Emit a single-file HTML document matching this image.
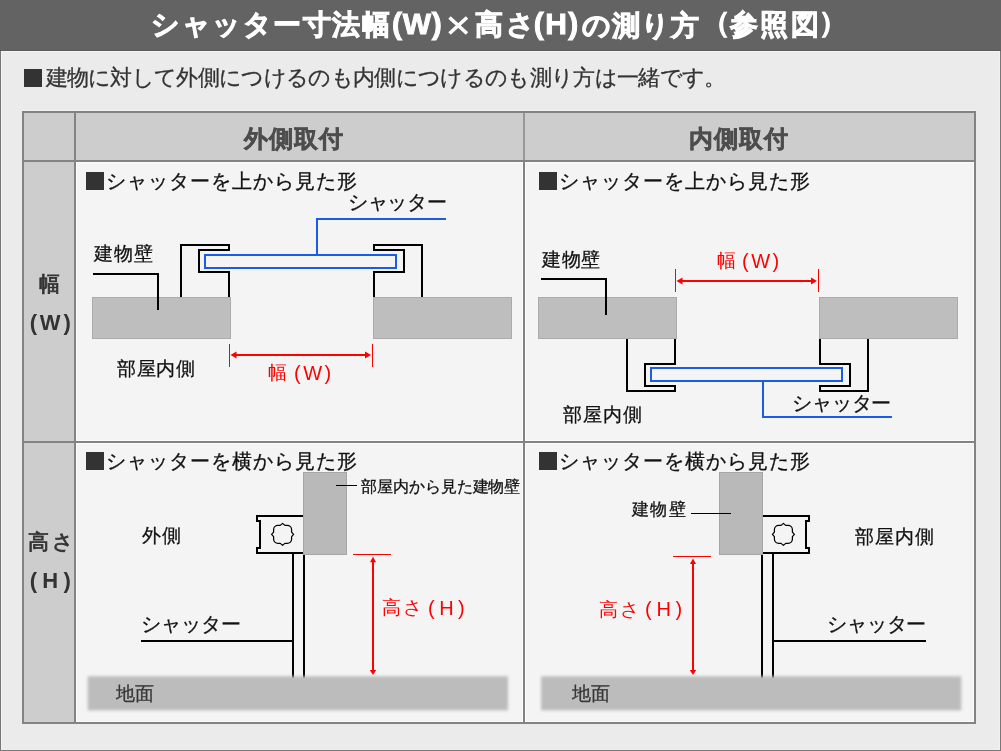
<!DOCTYPE html>
<html lang="ja"><head><meta charset="utf-8"><title>シャッター寸法</title>
<style>
html,body{margin:0;padding:0;}
body{width:1001px;height:751px;position:relative;overflow:hidden;background:#ebebeb;font-family:"Liberation Sans",sans-serif;}
svg{position:absolute;left:0;top:0;}
.t{position:absolute;white-space:nowrap;line-height:1.4;filter:grayscale(1);}
.r{filter:none;will-change:transform;}
.sq{display:inline-block;vertical-align:-2px;}
.x{display:inline-block;width:30px;text-align:center;font-weight:normal;transform:scale(1.35);}
</style></head><body>
<svg width="1001" height="751" viewBox="0 0 1001 751" shape-rendering="crispEdges">
<defs><filter id="bl" x="-5%" y="-20%" width="110%" height="140%"><feGaussianBlur stdDeviation="1.7"/></filter></defs>
<rect x="0" y="0" width="1001" height="751" fill="#ebebeb"/>
<rect x="0" y="0" width="1001" height="51" fill="#636363"/>
<rect x="0" y="50" width="1001" height="1" fill="#5a5a5a"/>
<rect x="1" y="51" width="999" height="1" fill="#f3f3f3"/>
<rect x="1" y="51" width="1" height="699" fill="#f2f2f2"/>
<rect x="999" y="51" width="1" height="699" fill="#f2f2f2"/>
<rect x="1" y="749" width="999" height="1" fill="#f0f0f0"/>
<rect x="0" y="51" width="1" height="700" fill="#777777"/>
<rect x="1000" y="51" width="1" height="700" fill="#777777"/>
<rect x="0" y="750" width="1001" height="1" fill="#777777"/>
<rect x="22" y="111" width="954" height="613" fill="#cdcdcd"/>
<rect x="76" y="162" width="447" height="279" fill="#f4f4f4"/>
<rect x="525" y="162" width="449" height="279" fill="#f4f4f4"/>
<rect x="76" y="443" width="447" height="279" fill="#f4f4f4"/>
<rect x="525" y="443" width="449" height="279" fill="#f4f4f4"/>
<rect x="76.5" y="162.5" width="446" height="278" fill="none" stroke="#fcfcfc" stroke-width="1"/>
<rect x="525.5" y="162.5" width="448" height="278" fill="none" stroke="#fcfcfc" stroke-width="1"/>
<rect x="76.5" y="443.5" width="446" height="278" fill="none" stroke="#fcfcfc" stroke-width="1"/>
<rect x="525.5" y="443.5" width="448" height="278" fill="none" stroke="#fcfcfc" stroke-width="1"/>
<rect x="22" y="110" width="954" height="1" fill="#f1f1f1"/>
<rect x="22" y="111" width="954" height="2" fill="#838383"/>
<rect x="22" y="722" width="954" height="2" fill="#838383"/>
<rect x="22" y="111" width="2" height="613" fill="#838383"/>
<rect x="974" y="111" width="2" height="613" fill="#838383"/>
<rect x="74" y="111" width="2" height="613" fill="#838383"/>
<rect x="523" y="111" width="2" height="613" fill="#838383"/>
<rect x="523" y="113" width="2" height="47" fill="#979797"/>
<rect x="22" y="160" width="954" height="2" fill="#838383"/>
<rect x="22" y="441" width="954" height="2" fill="#838383"/>
<rect x="92.5" y="297.5" width="138" height="41" fill="#bfbebf" stroke="#ababab" stroke-width="1"/>
<rect x="373.5" y="297.5" width="138" height="41" fill="#bfbebf" stroke="#ababab" stroke-width="1"/>
<rect x="93" y="273" width="66" height="2" fill="#000"/>
<rect x="157" y="273" width="2" height="37" fill="#000"/>
<rect x="180" y="244" width="2" height="53" fill="#000"/>
<rect x="180" y="244" width="50" height="2" fill="#000"/>
<rect x="228" y="244" width="2" height="7" fill="#000"/>
<rect x="198" y="249" width="32" height="2" fill="#000"/>
<rect x="198" y="249" width="2" height="24" fill="#000"/>
<rect x="198" y="271" width="32" height="2" fill="#000"/>
<rect x="228" y="271" width="2" height="26" fill="#000"/>
<rect x="421" y="244" width="2" height="53" fill="#000"/>
<rect x="373" y="244" width="50" height="2" fill="#000"/>
<rect x="373" y="244" width="2" height="7" fill="#000"/>
<rect x="373" y="249" width="32" height="2" fill="#000"/>
<rect x="403" y="249" width="2" height="24" fill="#000"/>
<rect x="373" y="271" width="32" height="2" fill="#000"/>
<rect x="373" y="271" width="2" height="26" fill="#000"/>
<rect x="205" y="255" width="191" height="13" fill="none" stroke="#1a5ce6" stroke-width="2"/>
<rect x="316" y="218" width="2" height="37" fill="#1a5ce6"/>
<rect x="316" y="218" width="130" height="2" fill="#1a5ce6"/>
<rect x="229" y="344" width="1" height="23" fill="#ff0000"/>
<rect x="372" y="344" width="1" height="23" fill="#ff0000"/>
<rect x="233" y="354" width="136" height="2" fill="#ff0000"/>
<path d="M230.5 355 L236.5 351.5 L236.5 358.5 Z" fill="#ff0000" shape-rendering="geometricPrecision"/>
<path d="M371 355 L365 351.5 L365 358.5 Z" fill="#ff0000" shape-rendering="geometricPrecision"/>
<rect x="538.5" y="297.5" width="138" height="41" fill="#bfbebf" stroke="#ababab" stroke-width="1"/>
<rect x="819.5" y="297.5" width="138" height="41" fill="#bfbebf" stroke="#ababab" stroke-width="1"/>
<rect x="541" y="278" width="66" height="2" fill="#000"/>
<rect x="605" y="278" width="2" height="37" fill="#000"/>
<rect x="626" y="339" width="2" height="53" fill="#000"/>
<rect x="626" y="390" width="50" height="2" fill="#000"/>
<rect x="674" y="385" width="2" height="7" fill="#000"/>
<rect x="644" y="385" width="32" height="2" fill="#000"/>
<rect x="644" y="363" width="2" height="24" fill="#000"/>
<rect x="644" y="363" width="32" height="2" fill="#000"/>
<rect x="674" y="339" width="2" height="26" fill="#000"/>
<rect x="867" y="339" width="2" height="53" fill="#000"/>
<rect x="819" y="390" width="50" height="2" fill="#000"/>
<rect x="819" y="385" width="2" height="7" fill="#000"/>
<rect x="819" y="385" width="32" height="2" fill="#000"/>
<rect x="849" y="363" width="2" height="24" fill="#000"/>
<rect x="819" y="363" width="32" height="2" fill="#000"/>
<rect x="819" y="339" width="2" height="26" fill="#000"/>
<rect x="651" y="368" width="191" height="13" fill="none" stroke="#1a5ce6" stroke-width="2"/>
<rect x="762" y="381" width="2" height="37" fill="#1a5ce6"/>
<rect x="762" y="416" width="130" height="2" fill="#1a5ce6"/>
<rect x="675" y="269" width="1" height="23" fill="#ff0000"/>
<rect x="818" y="269" width="1" height="23" fill="#ff0000"/>
<rect x="679" y="280" width="135" height="2" fill="#ff0000"/>
<path d="M676.5 281 L682.5 277.5 L682.5 284.5 Z" fill="#ff0000" shape-rendering="geometricPrecision"/>
<path d="M817 281 L811 277.5 L811 284.5 Z" fill="#ff0000" shape-rendering="geometricPrecision"/>
<rect x="292" y="554" width="2" height="124" fill="#000"/>
<rect x="303" y="554" width="2" height="124" fill="#000"/>
<rect x="256" y="515" width="48" height="2" fill="#000"/>
<rect x="256" y="552" width="48" height="2" fill="#000"/>
<rect x="256" y="515" width="2" height="7" fill="#000"/>
<rect x="256" y="520" width="5" height="2" fill="#000"/>
<rect x="259" y="520" width="2" height="29" fill="#000"/>
<rect x="256" y="547" width="5" height="2" fill="#000"/>
<rect x="256" y="547" width="2" height="7" fill="#000"/>
<path d="M280.3,525.4 L282.6,523.4 L284.9,525.4 L287.3,525.4 A4.3,4.3 0 0 1 291.6,529.7 L291.6,532.1 L293.6,534.4 L291.6,536.7 L291.6,539.1 A4.3,4.3 0 0 1 287.3,543.4 L284.9,543.4 L282.6,545.4 L280.3,543.4 L277.9,543.4 A4.3,4.3 0 0 1 273.6,539.1 L273.6,536.7 L271.6,534.4 L273.6,532.1 L273.6,529.7 A4.3,4.3 0 0 1 277.9,525.4 Z" fill="none" stroke="#000" stroke-width="1.25" stroke-linejoin="round" shape-rendering="geometricPrecision"/>
<rect x="303.5" y="472.5" width="43" height="82" fill="#b9b9b9" stroke="#a6a6a6" stroke-width="1"/>
<rect x="772" y="554" width="2" height="124" fill="#000"/>
<rect x="761" y="554" width="2" height="124" fill="#000"/>
<rect x="762" y="515" width="48" height="2" fill="#000"/>
<rect x="762" y="552" width="48" height="2" fill="#000"/>
<rect x="808" y="515" width="2" height="7" fill="#000"/>
<rect x="805" y="520" width="5" height="2" fill="#000"/>
<rect x="805" y="520" width="2" height="29" fill="#000"/>
<rect x="805" y="547" width="5" height="2" fill="#000"/>
<rect x="808" y="547" width="2" height="7" fill="#000"/>
<path d="M781.1,525.4 L783.4,523.4 L785.7,525.4 L788.1,525.4 A4.3,4.3 0 0 1 792.4,529.7 L792.4,532.1 L794.4,534.4 L792.4,536.7 L792.4,539.1 A4.3,4.3 0 0 1 788.1,543.4 L785.7,543.4 L783.4,545.4 L781.1,543.4 L778.7,543.4 A4.3,4.3 0 0 1 774.4,539.1 L774.4,536.7 L772.4,534.4 L774.4,532.1 L774.4,529.7 A4.3,4.3 0 0 1 778.7,525.4 Z" fill="none" stroke="#000" stroke-width="1.25" stroke-linejoin="round" shape-rendering="geometricPrecision"/>
<rect x="719.5" y="472.5" width="43" height="82" fill="#b9b9b9" stroke="#a6a6a6" stroke-width="1"/>
<rect x="336" y="485" width="21" height="1" fill="#000"/>
<rect x="141" y="640" width="152" height="2" fill="#000"/>
<rect x="691" y="513" width="40" height="1" fill="#000"/>
<rect x="773" y="640" width="153" height="2" fill="#000"/>
<rect x="353" y="554" width="38" height="1" fill="#ff0000"/>
<rect x="372" y="561" width="2" height="110" fill="#ff0000"/>
<path d="M373 556.8 L376.1 562.2 L369.9 562.2 Z" fill="#ff0000" shape-rendering="geometricPrecision"/>
<path d="M373 675 L376.2 670 L369.8 670 Z" fill="#ff0000" shape-rendering="geometricPrecision"/>
<rect x="673" y="556" width="38" height="1" fill="#ff0000"/>
<rect x="692" y="563" width="2" height="108" fill="#ff0000"/>
<path d="M693 558.6 L696.1 564 L689.9 564 Z" fill="#ff0000" shape-rendering="geometricPrecision"/>
<path d="M693 675 L696.2 670 L689.8 670 Z" fill="#ff0000" shape-rendering="geometricPrecision"/>
<path d="M449.5 17.5 L467 33.5 M467 17.5 L449.5 33.5" stroke="#fff" stroke-width="3.6" fill="none" shape-rendering="auto"/>
<g shape-rendering="auto"><g filter="url(#bl)"><rect x="87.7" y="676.3" width="420.3" height="34.1" fill="#bcbcbc"/><rect x="541" y="676.3" width="420.3" height="34.1" fill="#bcbcbc"/></g></g>
</svg>
<div class="t" id="sub" style="left:45.5px;top:62.75px;font-size:21.5px;font-weight:normal;color:#333;letter-spacing:-0.67px;-webkit-text-stroke:0.3px #333;">建物に対して外側につけるのも内側につけるのも測り方は一緒です。</div>
<div class="t" id="h1" style="left:244.0px;top:121.65px;font-size:24px;font-weight:bold;color:#4d4d4d;letter-spacing:0.96px;-webkit-text-stroke:0.6px #4d4d4d;">外側取付</div>
<div class="t" id="h2" style="left:688.9px;top:121.65px;font-size:24px;font-weight:bold;color:#4d4d4d;letter-spacing:0.89px;-webkit-text-stroke:0.6px #4d4d4d;">内側取付</div>
<div class="t" id="haba" style="left:39.05px;top:269.3px;font-size:21px;font-weight:normal;color:#333;letter-spacing:0px;-webkit-text-stroke:0.8px #333;">幅</div>
<div class="t" id="takasa" style="left:28.4px;top:526.8px;font-size:21px;font-weight:normal;color:#333;letter-spacing:2.2px;-webkit-text-stroke:0.8px #333;">高さ</div>
<div class="t" id="hTL" style="left:106.0px;top:168.15px;font-size:19.5px;font-weight:normal;color:#111;letter-spacing:0.99px;-webkit-text-stroke:0.3px #111;">シャッターを上から見た形</div>
<div class="t" id="hTR" style="left:558.9px;top:168.25px;font-size:19.5px;font-weight:normal;color:#111;letter-spacing:1.0px;-webkit-text-stroke:0.3px #111;">シャッターを上から見た形</div>
<div class="t" id="hBL" style="left:106.0px;top:447.6px;font-size:19.5px;font-weight:normal;color:#111;letter-spacing:1.0px;-webkit-text-stroke:0.3px #111;">シャッターを横から見た形</div>
<div class="t" id="hBR" style="left:558.9px;top:447.7px;font-size:19.5px;font-weight:normal;color:#111;letter-spacing:1.0px;-webkit-text-stroke:0.3px #111;">シャッターを横から見た形</div>
<div class="t" id="tl_sh" style="left:347.7px;top:188.55px;font-size:19.5px;font-weight:normal;color:#111;letter-spacing:-0.15px;-webkit-text-stroke:0.3px #111;">シャッター</div>
<div class="t" id="tl_kb" style="left:94.1px;top:241.3px;font-size:19px;font-weight:normal;color:#111;letter-spacing:1.1px;-webkit-text-stroke:0.3px #111;">建物壁</div>
<div class="t" id="tl_hn" style="left:116.7px;top:355.6px;font-size:19px;font-weight:normal;color:#111;letter-spacing:0.82px;-webkit-text-stroke:0.3px #111;">部屋内側</div>
<div class="t r" id="tl_wk" style="left:268.0px;top:359.5px;font-size:19px;font-weight:normal;color:#ff0000;letter-spacing:0px;">幅</div>
<div class="t" id="tr_kb" style="left:542.0px;top:246.6px;font-size:19px;font-weight:normal;color:#111;letter-spacing:0.7px;-webkit-text-stroke:0.3px #111;">建物壁</div>
<div class="t r" id="tr_wk" style="left:716.5px;top:248.3px;font-size:19px;font-weight:normal;color:#ff0000;letter-spacing:0px;">幅</div>
<div class="t" id="tr_hn" style="left:563.3px;top:401.9px;font-size:19px;font-weight:normal;color:#111;letter-spacing:0.97px;-webkit-text-stroke:0.3px #111;">部屋内側</div>
<div class="t" id="tr_sh" style="left:792.3px;top:390.35px;font-size:19.5px;font-weight:normal;color:#111;letter-spacing:-0.2px;-webkit-text-stroke:0.3px #111;">シャッター</div>
<div class="t" id="bl_hk" style="left:361.4px;top:476.25px;font-size:16px;font-weight:normal;color:#111;letter-spacing:-0.12px;-webkit-text-stroke:0.3px #111;">部屋内から見た建物壁</div>
<div class="t" id="bl_sg" style="left:141.9px;top:523.3px;font-size:19px;font-weight:normal;color:#111;letter-spacing:0.8px;-webkit-text-stroke:0.3px #111;">外側</div>
<div class="t" id="bl_sh" style="left:140.5px;top:611.25px;font-size:19.5px;font-weight:normal;color:#111;letter-spacing:0.0px;-webkit-text-stroke:0.3px #111;">シャッター</div>
<div class="t r" id="bl_hk2" style="left:382.1px;top:595.0px;font-size:19px;font-weight:normal;color:#ff0000;letter-spacing:1.8px;">高さ</div>
<div class="t" id="bl_gd" style="left:115.75px;top:681.1px;font-size:19px;font-weight:normal;color:#383838;letter-spacing:0.0px;-webkit-text-stroke:0.3px #383838;">地面</div>
<div class="t" id="br_kb" style="left:632.0px;top:498.3px;font-size:17px;font-weight:normal;color:#111;letter-spacing:1.3px;-webkit-text-stroke:0.3px #111;">建物壁</div>
<div class="t" id="br_hn" style="left:855.1px;top:523.95px;font-size:19px;font-weight:normal;color:#111;letter-spacing:0.97px;-webkit-text-stroke:0.3px #111;">部屋内側</div>
<div class="t r" id="br_hk2" style="left:599.0px;top:596.6px;font-size:19px;font-weight:normal;color:#ff0000;letter-spacing:1.8px;">高さ</div>
<div class="t" id="br_sh" style="left:826.7px;top:611.25px;font-size:19.5px;font-weight:normal;color:#111;letter-spacing:-0.05px;-webkit-text-stroke:0.3px #111;">シャッター</div>
<div class="t" id="br_gd" style="left:571.75px;top:681.25px;font-size:19px;font-weight:normal;color:#383838;letter-spacing:0.0px;-webkit-text-stroke:0.3px #383838;">地面</div>
<div class="t" id="W" style="left:29.8px;top:308.05px;font-size:22px;font-weight:bold;color:#333;letter-spacing:2.75px;">(W)</div>
<div class="t" id="H" style="left:29.8px;top:565.75px;font-size:22px;font-weight:bold;color:#333;letter-spacing:5.25px;">(H)</div>
<div class="t r" id="tl_wl" style="left:294.2px;top:359.1px;font-size:20px;font-weight:normal;color:#ff0000;letter-spacing:2.5px;">(W)</div>
<div class="t r" id="tr_wl" style="left:742.1px;top:247.2px;font-size:20px;font-weight:normal;color:#ff0000;letter-spacing:2.5px;">(W)</div>
<div class="t r" id="bl_hl" style="left:428.1px;top:594.0px;font-size:20px;font-weight:normal;color:#ff0000;letter-spacing:4.5px;">(H)</div>
<div class="t r" id="br_hl" style="left:644.5px;top:595.4px;font-size:20px;font-weight:normal;color:#ff0000;letter-spacing:4.75px;">(H)</div>
<div class="t" id="t1" style="left:151.4px;top:5.0px;font-size:28px;font-weight:bold;color:#fff;letter-spacing:1.49px;-webkit-text-stroke:0.9px #fff;">シャッター寸法幅</div>
<div class="t" id="t2" style="left:392.0px;top:3.35px;font-size:30px;font-weight:bold;color:#fff;letter-spacing:0.7px;-webkit-text-stroke:0.9px #fff;">(W)</div>
<div class="t" id="t4" style="left:474.5px;top:5.0px;font-size:28px;font-weight:bold;color:#fff;letter-spacing:3.4px;-webkit-text-stroke:0.9px #fff;">高さ</div>
<div class="t" id="t5" style="left:533.7px;top:3.35px;font-size:30px;font-weight:bold;color:#fff;letter-spacing:1.5px;-webkit-text-stroke:0.9px #fff;">(H)</div>
<div class="t" id="t6" style="left:581.7px;top:5.5px;font-size:28px;font-weight:bold;color:#fff;letter-spacing:1.21px;-webkit-text-stroke:0.9px #fff;">の測り方</div>
<div class="t" id="t7" style="left:702.4px;top:3.45px;font-size:28px;font-weight:bold;color:#fff;letter-spacing:0px;-webkit-text-stroke:0.9px #fff;">（</div>
<div class="t" id="t8" style="left:730.0px;top:5.0px;font-size:28px;font-weight:bold;color:#fff;letter-spacing:2.3px;-webkit-text-stroke:0.9px #fff;">参照図</div>
<div class="t" id="t9" style="left:818.95px;top:3.45px;font-size:28px;font-weight:bold;color:#fff;letter-spacing:0px;-webkit-text-stroke:0.9px #fff;">）</div>
<div style="position:absolute;left:24px;top:69px;width:18px;height:18px;background:#333"></div>
<div style="position:absolute;left:86px;top:172px;width:18px;height:18px;background:#333"></div>
<div style="position:absolute;left:539px;top:172px;width:18px;height:18px;background:#333"></div>
<div style="position:absolute;left:86px;top:452px;width:18px;height:18px;background:#333"></div>
<div style="position:absolute;left:539px;top:452px;width:18px;height:18px;background:#333"></div>
</body></html>
